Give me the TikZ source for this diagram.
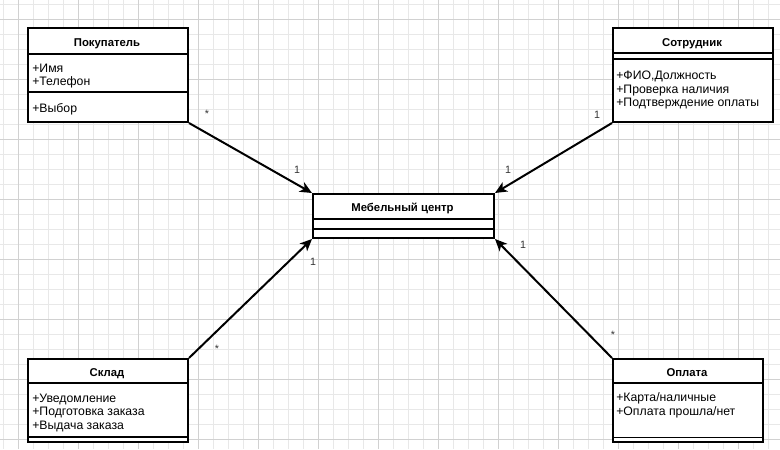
\documentclass[tikz,border=0pt]{standalone}
\usepackage{fontspec}
\setmainfont{Liberation Sans}
\usetikzlibrary{arrows.meta}

\tikzset{
  classbox/.style={draw, line width=1.5pt, rectangle, anchor=north west, inner sep=0pt, fill=white},
  classname/.style={font=\bfseries\fontsize{8.5}{10}\selectfont, anchor=base, inner sep=0pt},
  % base of a multi-line node = baseline of its last line
  members/.style={font=\fontsize{9.2}{10.3}\selectfont, anchor=base west, align=left, inner sep=0pt},
  sepline/.style={line width=1pt},
  assoc/.style={line width=1.5pt, -{Stealth[length=9pt,width=8pt,inset=2.5pt]}},
  mult/.style={font=\fontsize{8}{9}\selectfont, text=black!80, inner sep=0pt},
  minorgrid/.style={black!9, line width=0.5pt},
  majorgrid/.style={black!18, line width=0.5pt}
}

\begin{document}
\begin{tikzpicture}[x=0.75pt,y=-0.75pt]

% Draw background and grid
\useasboundingbox (0,0) rectangle (780,449);
\fill[white] (0,0) rectangle (780,449);
\foreach \gx in {3,18,...,780} \draw[minorgrid] (\gx,0) -- (\gx,449);
\foreach \gy in {4,19,...,449} \draw[minorgrid] (0,\gy) -- (780,\gy);
\foreach \gx in {18,78,...,780} \draw[majorgrid] (\gx,0) -- (\gx,449);
\foreach \gy in {19,79,...,449} \draw[majorgrid] (0,\gy) -- (780,\gy);

% Draw classes
\node[classbox, minimum width=120pt, minimum height=70.5pt] (buyer) at (27,27) {};
\node[classname] (buyer-name) at (107,46.5) {Покупатель};
\draw[sepline] (buyer.west |- 0,54) -- (buyer.east |- 0,54);
\draw[sepline] (buyer.west |- 0,92) -- (buyer.east |- 0,92);
\node[members] (buyer-attr) at (32,86) {+Имя\\+Телефон};
\node[members] (buyer-ops) at (32,112.5) {+Выбор};

\node[classbox, minimum width=120pt, minimum height=70.5pt] (staff) at (612,27) {};
\node[classname] (staff-name) at (692,46.5) {Сотрудник};
\draw[sepline] (staff.west |- 0,53) -- (staff.east |- 0,53);
\draw[sepline] (staff.west |- 0,59) -- (staff.east |- 0,59);
\node[members] (staff-ops) at (616,107) {+ФИО,Должность\\+Проверка наличия\\+Подтверждение оплаты};

\node[classbox, minimum width=135.75pt, minimum height=33pt] (center) at (312,193) {};
\node[classname] (center-name) at (402.5,211.5) {Мебельный центр};
\draw[sepline] (center.west |- 0,219) -- (center.east |- 0,219);
\draw[sepline] (center.west |- 0,229) -- (center.east |- 0,229);

\node[classbox, minimum width=120pt, minimum height=62.25pt] (store) at (27,358) {};
\node[classname] (store-name) at (107,376.5) {Склад};
\draw[sepline] (store.west |- 0,383) -- (store.east |- 0,383);
\draw[sepline] (store.west |- 0,437) -- (store.east |- 0,437);
\node[members] (store-attr) at (32,429.5) {+Уведомление\\+Подготовка заказа\\+Выдача заказа};

\node[classbox, minimum width=112.5pt, minimum height=62.25pt] (payment) at (612,358) {};
\node[classname] (payment-name) at (687,376.5) {Оплата};
\draw[sepline] (payment.west |- 0,383) -- (payment.east |- 0,383);
\draw[sepline] (payment.west |- 0,437.5) -- (payment.east |- 0,437.5);
\node[members] (payment-attr) at (616,415.5) {+Карта/наличные\\+Оплата прошла/нет};

% Draw associations
\draw[assoc] (buyer.south east) -- (center.north west);
\draw[assoc] (staff.south west) -- (center.north east);
\draw[assoc] (store.north east) -- (center.south west);
\draw[assoc] (payment.north west) -- (center.south east);

% Multiplicities
\node[mult] (m1) at (207,114) {*};
\node[mult] (m2) at (297,170) {1};
\node[mult] (m3) at (597,115) {1};
\node[mult] (m4) at (508,170) {1};
\node[mult] (m5) at (313,262) {1};
\node[mult] (m6) at (217,349) {*};
\node[mult] (m7) at (523,245) {1};
\node[mult] (m8) at (613,335) {*};

\end{tikzpicture}
\end{document}
